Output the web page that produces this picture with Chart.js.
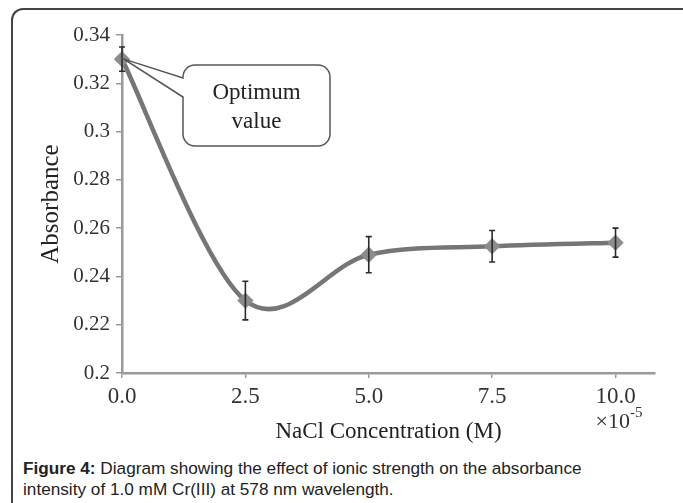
<!DOCTYPE html>
<html>
<head>
<meta charset="utf-8">
<script src="https://cdn.jsdelivr.net/npm/chart.js@4.4.1/dist/chart.umd.min.js"></script>
<style>
  body { margin: 0; background: #fff; width: 683px; height: 503px; overflow: hidden; position: relative; }
  #frame {
    position: absolute; left: 11px; top: 8px; width: 700px; height: 520px;
    border-left: 2px solid #444; border-top: 2px solid #444; border-top-left-radius: 12px;
  }
  #chart { position: absolute; left: 0; top: 0; }
  #caption {
    position: absolute; left: 23px; top: 458px; width: 590px;
    font-family: "Liberation Sans", Arial, sans-serif; font-size: 17.2px; line-height: 21px; color: #222;
  }
</style>
</head>
<body>
<div id="frame"></div>
<canvas id="chart" width="683" height="455"></canvas>
<div id="caption"><b>Figure 4:</b> Diagram showing the effect of ionic strength on the absorbance intensity of 1.0 mM Cr(III) at 578 nm wavelength.</div>
<script>
// NaCl concentration (x 10^-5 M) and absorbance
const concentrations = [0.0, 2.5, 5.0, 7.5, 10.0];
const absorbance = [0.330, 0.230, 0.249, 0.2525, 0.254];
const errors = [0.005, 0.008, 0.0075, 0.0065, 0.006];
const xTicks = [0.0, 2.5, 5.0, 7.5, 10.0];
const yTicks = [0.2, 0.22, 0.24, 0.26, 0.28, 0.3, 0.32, 0.34];

const serif = '"Liberation Serif", "Times New Roman", serif';

// spreadsheet-style smoothing: tangent = (next - prev) / 6, no distance weighting
const smoothLine = {
  id: 'smoothLine',
  beforeDatasetDraw(chart, args) {
    const meta = args.meta;
    const pts = meta.data;
    const n = pts.length;
    for (let i = 0; i < n; i++) {
      const prev = pts[Math.max(i - 1, 0)];
      const next = pts[Math.min(i + 1, n - 1)];
      const dx = (next.x - prev.x) / 6;
      const dy = (next.y - prev.y) / 6;
      pts[i].cp1x = pts[i].x - dx;
      pts[i].cp1y = pts[i].y - dy;
      pts[i].cp2x = pts[i].x + dx;
      pts[i].cp2y = pts[i].y + dy;
    }
    meta.dataset._pointsUpdated = true;
  }
};

const extras = {
  id: 'extras',
  afterDatasetsDraw(chart) {
    const {ctx, scales: {x, y}} = chart;
    ctx.save();
    // error bars
    ctx.strokeStyle = '#2b2b2b';
    ctx.lineWidth = 1.6;
    concentrations.forEach((c, i) => {
      const px = x.getPixelForValue(c);
      const top = y.getPixelForValue(absorbance[i] + errors[i]);
      const bot = y.getPixelForValue(absorbance[i] - errors[i]);
      ctx.beginPath();
      ctx.moveTo(px, top); ctx.lineTo(px, bot);
      ctx.moveTo(px - 3, top); ctx.lineTo(px + 3, top);
      ctx.moveTo(px - 3, bot); ctx.lineTo(px + 3, bot);
      ctx.stroke();
    });

    // callout pointing at the optimum value
    const tipX = x.getPixelForValue(concentrations[0]) + 2;
    const tipY = y.getPixelForValue(absorbance[0]);
    const bx = 183, by = 65, bw = 147, bh = 81, r = 12;
    ctx.beginPath();
    ctx.moveTo(bx + r, by);
    ctx.lineTo(bx + bw - r, by);
    ctx.arcTo(bx + bw, by, bx + bw, by + r, r);
    ctx.lineTo(bx + bw, by + bh - r);
    ctx.arcTo(bx + bw, by + bh, bx + bw - r, by + bh, r);
    ctx.lineTo(bx + r, by + bh);
    ctx.arcTo(bx, by + bh, bx, by + bh - r, r);
    ctx.lineTo(bx, 97);
    ctx.lineTo(tipX, tipY);
    ctx.lineTo(bx, 78);
    ctx.lineTo(bx, by + r);
    ctx.arcTo(bx, by, bx + r, by, r);
    ctx.closePath();
    ctx.fillStyle = '#fff';
    ctx.fill();
    ctx.strokeStyle = '#555';
    ctx.lineWidth = 1.5;
    ctx.stroke();
    ctx.fillStyle = '#222';
    ctx.font = '23px ' + serif;
    ctx.textAlign = 'center';
    ctx.textBaseline = 'middle';
    ctx.fillText('Optimum', bx + bw / 2, by + 28);
    ctx.fillText('value', bx + bw / 2, by + 57);

    // x10^-5 multiplier under the last tick
    const mx = x.getPixelForValue(xTicks[xTicks.length - 1]);
    ctx.textAlign = 'left';
    ctx.fillStyle = '#333';
    ctx.font = '22px ' + serif;
    ctx.fillText('\u00d710', mx - 20, 422);
    const w = ctx.measureText('\u00d710').width;
    ctx.font = '15px ' + serif;
    ctx.fillText('-5', mx - 20 + w, 413);
    ctx.restore();
  }
};

new Chart(document.getElementById('chart'), {
  type: 'scatter',
  data: {
    datasets: [{
      data: concentrations.map((c, i) => ({x: c, y: absorbance[i]})),
      showLine: true,
      tension: 0.4,
      borderColor: '#767676',
      borderWidth: 4.5,
      pointStyle: 'rectRot',
      pointRadius: 5,
      pointBackgroundColor: '#8c8c8c',
      pointBorderColor: '#8c8c8c',
      clip: false
    }]
  },
  options: {
    responsive: false,
    animation: false,
    layout: { padding: { top: 35, right: 28, left: 22, bottom: 0 } },
    plugins: { legend: { display: false }, tooltip: { enabled: false } },
    scales: {
      x: {
        type: 'linear', min: 0, max: 10.8,
        afterBuildTicks: s => { s.ticks = xTicks.map(v => ({value: v})); },
        afterFit: s => { s.height = 455 - 373; },
        ticks: { callback: v => v.toFixed(1), color: '#333', font: { family: serif, size: 23 }, padding: 5, maxRotation: 0 },
        grid: { drawOnChartArea: false, color: '#999', tickLength: 5, lineWidth: 1.5 },
        border: { color: '#9a9a9a', width: 2.5 },
        title: { display: true, text: 'NaCl Concentration (M)', color: '#222', font: { family: serif, size: 23 }, padding: { top: 0, bottom: 9 } }
      },
      y: {
        min: 0.2, max: 0.34,
        afterBuildTicks: s => { s.ticks = yTicks.map(v => ({value: v})); },
        afterFit: s => { s.width = 122 - 22; },
        ticks: { callback: v => String(v), color: '#333', font: { family: serif, size: 21 }, padding: 6 },
        grid: { drawOnChartArea: false, color: '#999', tickLength: 6, lineWidth: 1.5 },
        border: { color: '#9a9a9a', width: 2.5 },
        title: { display: true, text: 'Absorbance', color: '#222', font: { family: serif, size: 25 }, padding: { top: 14, bottom: 0 } }
      }
    }
  },
  plugins: [smoothLine, extras]
});
</script>
</body>
</html>
